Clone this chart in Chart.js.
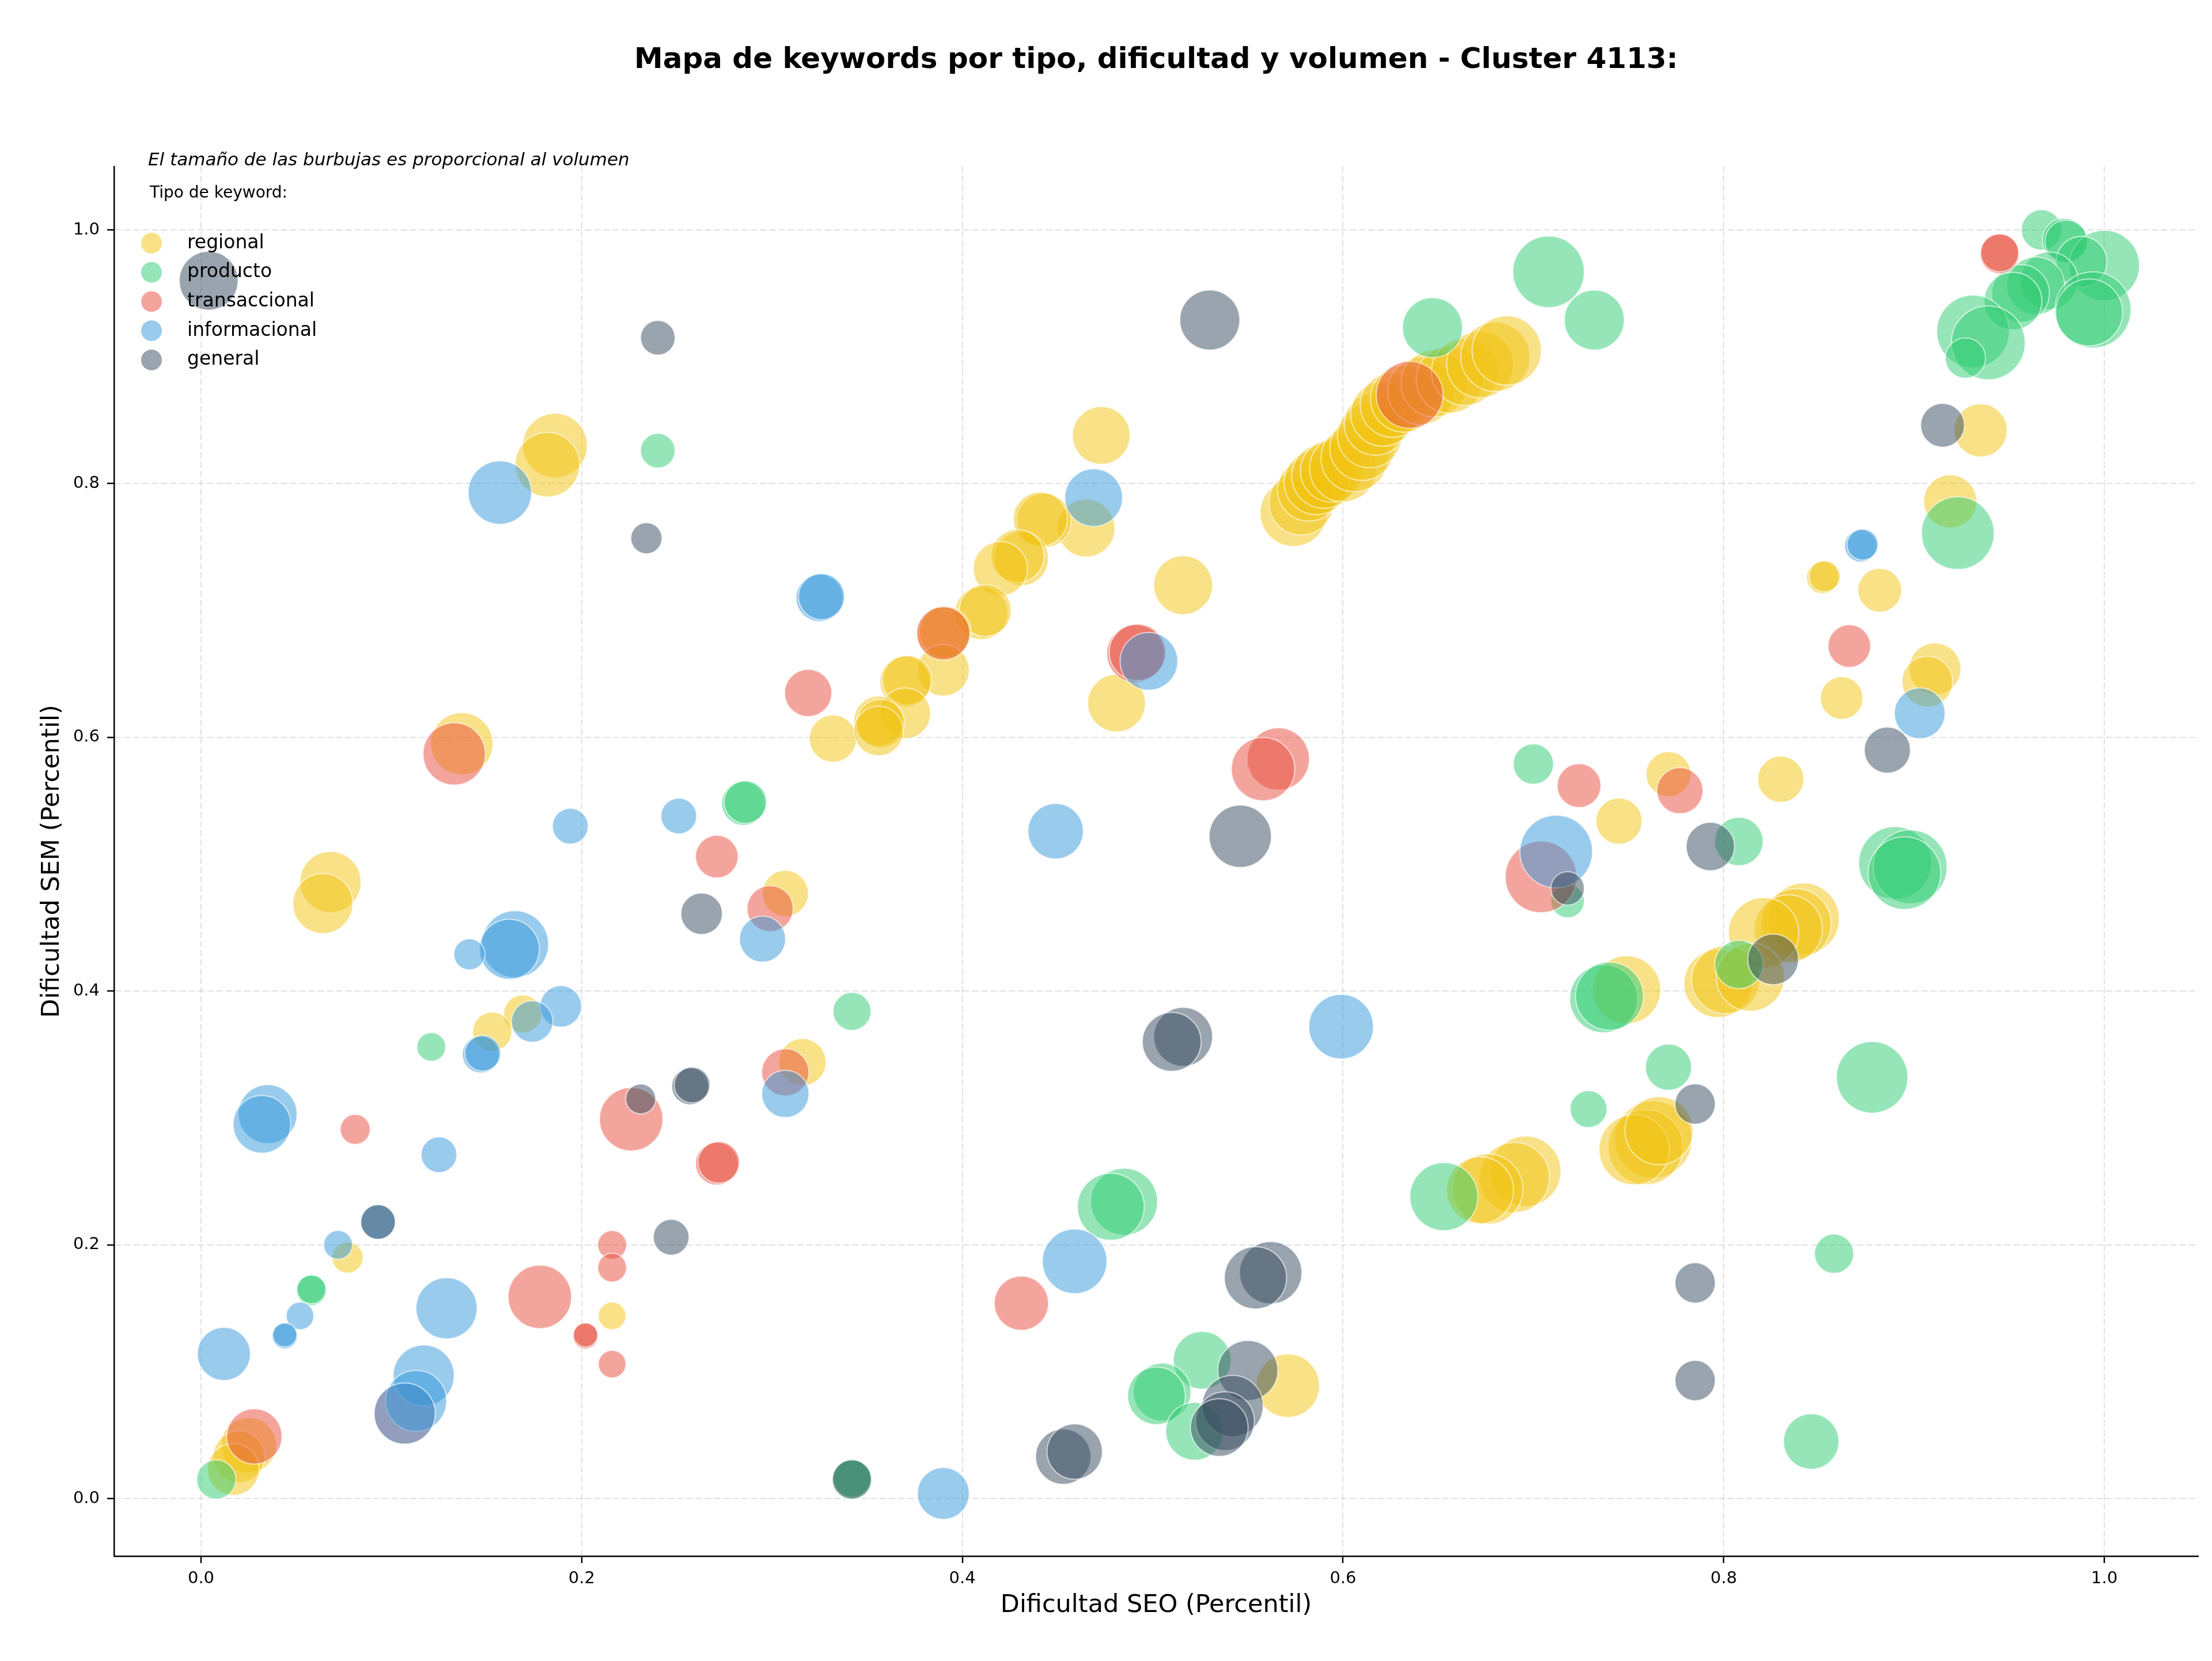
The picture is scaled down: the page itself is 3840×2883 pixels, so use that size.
<!DOCTYPE html>
<html>
<head>
<meta charset="utf-8">
<script src="https://cdn.jsdelivr.net/npm/chart.js@4.4.0/dist/chart.umd.min.js"></script>
<style>html,body{margin:0;padding:0;background:#fff;}canvas{display:block;}</style>
</head>
<body>
<canvas id="c" width="3840" height="2883" style="width:3840px;height:2883px"></canvas>
<script>
const chartTitle = 'Mapa de keywords por tipo, dificultad y volumen - Cluster 4113:';
const noteText = 'El tamaño de las burbujas es proporcional al volumen';
const legendTitle = 'Tipo de keyword:';
const xLabel = 'Dificultad SEO (Percentil)';
const yLabel = 'Dificultad SEM (Percentil)';
const categories = ['regional', 'producto', 'transaccional', 'informacional', 'general'];
const xTicks = [0.0, 0.2, 0.4, 0.6, 0.8, 1.0];
const yTicks = [0.0, 0.2, 0.4, 0.6, 0.8, 1.0];

// regional
const regionalX = [0.186,0.182,0.137,0.332,0.307,0.068,0.064,0.169,0.153,0.316,0.077,0.216,0.025,0.020,0.017,0.571,0.473,0.465,0.443,0.441,0.431,0.429,0.420,0.516,0.410,0.412,0.390,0.391,0.390,0.370,0.371,0.370,0.356,0.357,0.356,0.481,
  0.574,0.578,0.582,0.586,0.590,0.594,0.600,0.606,0.610,0.614,0.617,0.621,0.626,0.632,0.641,0.648,0.656,0.664,0.672,0.680,0.686,
  0.771,0.830,0.745,0.842,0.838,0.834,0.821,0.797,0.801,0.814,0.749,0.763,0.759,0.753,0.766,0.696,0.690,0.676,0.672,0.935,0.919,0.852,0.853,0.882,0.911,0.907,0.862];
const regionalY = [0.830,0.815,0.595,0.599,0.477,0.486,0.469,0.382,0.368,0.344,0.190,0.144,0.042,0.033,0.023,0.089,0.838,0.765,0.771,0.772,0.741,0.743,0.733,0.720,0.698,0.700,0.682,0.683,0.653,0.644,0.645,0.619,0.613,0.611,0.605,0.627,
  0.777,0.785,0.795,0.801,0.806,0.810,0.812,0.820,0.828,0.838,0.847,0.855,0.862,0.867,0.873,0.879,0.882,0.888,0.894,0.900,0.905,
  0.571,0.567,0.534,0.457,0.453,0.449,0.446,0.406,0.409,0.411,0.401,0.283,0.277,0.275,0.290,0.258,0.253,0.244,0.243,0.842,0.786,0.726,0.727,0.716,0.654,0.644,0.631];
const regionalVol = [784,784,729,420,400,702,676,272,289,420,182,144,576,506,506,756,625,625,552,552,552,529,552,650,529,506,529,506,506,484,462,484,462,441,462,625,
  841,784,729,784,784,729,841,841,784,784,729,784,784,841,841,841,841,841,841,900,900,
  380,400,400,961,930,870,930,870,870,870,870,1122,1056,930,870,930,930,930,841,529,529,196,182,361,506,484,342];

// producto
const productoX = [0.240,0.285,0.286,0.121,0.342,0.058,0.058,0.008,0.342,0.342,0.526,0.505,0.502,0.522,0.485,0.478,0.653,0.700,0.718,0.808,0.890,0.898,0.895,0.808,0.737,0.740,0.771,0.729,0.878,0.858,0.846,0.708,0.732,0.647,0.967,0.979,0.980,1.000,0.988,0.971,0.964,0.956,0.952,0.994,0.992,0.931,0.939,0.927,0.923];
const productoY = [0.826,0.548,0.549,0.356,0.384,0.164,0.165,0.015,0.015,0.016,0.109,0.084,0.081,0.053,0.234,0.230,0.238,0.579,0.471,0.518,0.501,0.498,0.493,0.421,0.394,0.396,0.340,0.307,0.332,0.193,0.045,0.967,0.929,0.923,1.000,0.992,0.991,0.972,0.975,0.960,0.956,0.950,0.944,0.937,0.935,0.920,0.911,0.899,0.761];
const productoVol = [225,361,342,156,272,169,156,289,289,272,625,625,625,625,841,841,870,306,210,441,992,1024,992,441,870,870,400,256,961,289,576,961,676,676,306,361,342,930,484,625,625,625,625,1089,841,992,1024,306,992];

// transaccional
const transaccionalX = [0.319,0.133,0.271,0.299,0.081,0.226,0.271,0.272,0.307,0.216,0.216,0.178,0.202,0.202,0.216,0.028,0.107,0.431,0.566,0.558,0.491,0.492,0.390,0.635,0.724,0.777,0.704,0.866,0.945,0.945];
const transaccionalY = [0.635,0.587,0.506,0.465,0.291,0.299,0.264,0.265,0.336,0.200,0.182,0.159,0.128,0.129,0.106,0.049,0.067,0.154,0.583,0.575,0.666,0.667,0.682,0.870,0.562,0.558,0.490,0.672,0.981,0.982];
const transaccionalVol = [420,729,342,400,169,756,342,324,420,156,156,756,121,110,144,576,702,552,729,756,625,600,529,841,361,400,961,342,289,272];

// informacional
const informacionalX = [0.157,0.325,0.326,0.194,0.251,0.295,0.165,0.162,0.141,0.189,0.174,0.147,0.148,0.035,0.032,0.125,0.307,0.093,0.072,0.052,0.044,0.044,0.012,0.129,0.117,0.113,0.107,0.390,0.459,0.449,0.599,0.469,0.498,0.712,0.872,0.873,0.903];
const informacionalY = [0.793,0.710,0.711,0.530,0.538,0.441,0.437,0.433,0.429,0.388,0.376,0.350,0.351,0.303,0.295,0.271,0.319,0.218,0.200,0.144,0.128,0.129,0.114,0.150,0.097,0.077,0.067,0.004,0.187,0.526,0.372,0.789,0.660,0.510,0.751,0.752,0.619];
const informacionalVol = [756,420,400,240,240,400,841,676,182,324,324,256,240,650,625,240,420,225,156,144,121,110,529,702,702,702,702,506,784,576,784,625,625,992,196,182,484];

// general
const generalX = [0.004,0.240,0.234,0.263,0.231,0.257,0.258,0.247,0.093,0.342,0.453,0.459,0.562,0.554,0.550,0.542,0.538,0.535,0.530,0.546,0.516,0.510,0.718,0.793,0.826,0.785,0.785,0.785,0.915,0.886];
const generalY = [0.960,0.915,0.757,0.461,0.315,0.325,0.326,0.206,0.218,0.015,0.033,0.037,0.178,0.174,0.101,0.073,0.061,0.056,0.929,0.522,0.364,0.360,0.481,0.514,0.425,0.311,0.170,0.093,0.846,0.590];
const generalVol = [650,225,182,324,169,256,240,240,225,289,576,576,729,729,676,702,650,625,676,729,650,650,210,441,484,306,306,306,361,400];

const seriesColors = {
  regional: [241, 196, 15],
  producto: [46, 204, 113],
  transaccional: [231, 76, 60],
  informacional: [52, 152, 219],
  general: [52, 73, 94]
};
const ALPHA = 0.5;
const rgba = (c, a) => `rgba(${c[0]},${c[1]},${c[2]},${a})`;
const volToRadius = v => 2 * Math.sqrt(v);
const toPoints = (xs, ys, vs) => xs.map((x, i) => ({ x: x, y: ys[i], r: volToRadius(vs[i]) }));

const seriesData = {
  regional: toPoints(regionalX, regionalY, regionalVol),
  producto: toPoints(productoX, productoY, productoVol),
  transaccional: toPoints(transaccionalX, transaccionalY, transaccionalVol),
  informacional: toPoints(informacionalX, informacionalY, informacionalVol),
  general: toPoints(generalX, generalY, generalVol)
};

const FONT = "'DejaVu Sans', 'Liberation Sans', sans-serif";
Chart.defaults.font.family = FONT;
Chart.defaults.color = '#000';

const datasets = categories.map((c, i) => ({
  label: c,
  data: seriesData[c],
  backgroundColor: rgba(seriesColors[c], ALPHA),
  borderColor: 'rgba(255,255,255,0.6)',
  borderWidth: 2,
  order: categories.length - i
}));

const overlayPlugin = {
  id: 'overlay',
  afterDraw(chart) {
    const { ctx, chartArea } = chart;
    const L = chartArea.left, T = chartArea.top;
    ctx.save();
    ctx.fillStyle = '#000';
    ctx.textAlign = 'left';
    ctx.textBaseline = 'middle';
    ctx.font = `italic 31px ${FONT}`;
    ctx.fillText(noteText, L + 59, T - 10);
    ctx.font = `28px ${FONT}`;
    ctx.fillText(legendTitle, L + 62, T + 47);
    categories.forEach((c, i) => {
      const y = T + 133 + i * 50.7;
      ctx.beginPath();
      ctx.arc(L + 65, y, 18, 0, Math.PI * 2);
      ctx.fillStyle = rgba(seriesColors[c], ALPHA);
      ctx.fill();
      ctx.fillStyle = '#000';
      ctx.font = `33px ${FONT}`;
      ctx.fillText(c, L + 127, y);
    });
    ctx.restore();
  }
};

const gridCommon = {
  color: 'rgba(176,176,176,0.38)',
  lineWidth: 2,
  drawTicks: true,
  tickLength: 12,
  tickColor: '#000',
  tickWidth: 2.5,
  tickBorderDash: []
};

new Chart(document.getElementById('c'), {
  type: 'bubble',
  data: { datasets },
  options: {
    responsive: false,
    animation: false,
    events: [],
    layout: { autoPadding: false, padding: { left: 0, right: 24, top: 0, bottom: 0 } },
    plugins: {
      legend: { display: false },
      tooltip: { enabled: false },
      title: {
        display: true,
        text: chartTitle,
        fullSize: false,
        color: '#000',
        font: { size: 50, weight: 'bold', family: FONT, lineHeight: 1.2 },
        padding: { top: 75, bottom: 154 }
      }
    },
    scales: {
      x: {
        type: 'linear',
        position: 'bottom',
        min: -0.0457,
        max: 1.0493,
        bounds: 'data',
        afterFit: s => { s.height = 182; s.paddingLeft = 0; s.paddingRight = 0; },
        afterBuildTicks: s => { s.ticks = xTicks.map(v => ({ value: v })); },
        ticks: { callback: v => Number(v).toFixed(1), font: { size: 29 }, color: '#000', padding: 10, maxRotation: 0, autoSkip: false },
        grid: gridCommon,
        border: { display: true, color: '#000', width: 2.5, dash: [11, 5] },
        title: { display: true, text: xLabel, color: '#000', font: { size: 43, lineHeight: 1.2 }, padding: { top: 0, bottom: 70 } }
      },
      y: {
        type: 'linear',
        position: 'left',
        min: -0.0454,
        max: 1.050,
        bounds: 'data',
        afterFit: s => { s.width = 198; s.paddingTop = 0; s.paddingBottom = 0; },
        afterBuildTicks: s => { s.ticks = yTicks.map(v => ({ value: v })); },
        ticks: { callback: v => Number(v).toFixed(1), font: { size: 29 }, color: '#000', padding: 13, autoSkip: false },
        grid: gridCommon,
        border: { display: true, color: '#000', width: 2.5, dash: [11, 5] },
        title: { display: true, text: yLabel, color: '#000', font: { size: 43, lineHeight: 1.2 }, padding: { top: 65, bottom: 0 } }
      }
    }
  },
  plugins: [overlayPlugin]
});
</script>
</body>
</html>
